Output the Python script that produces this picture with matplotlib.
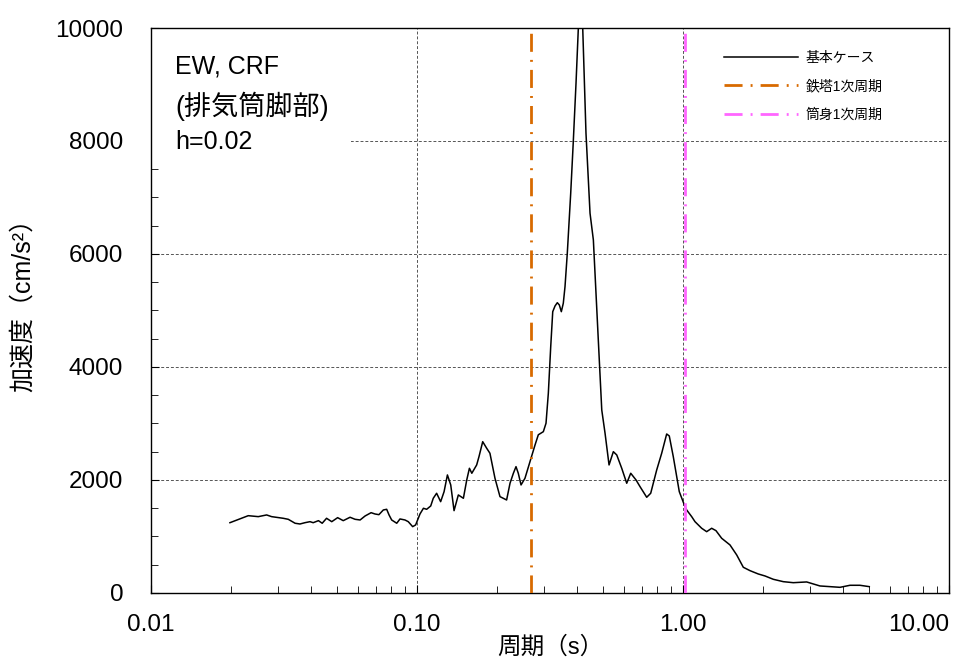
import numpy as np
import matplotlib.pyplot as plt
from matplotlib.patches import Rectangle
from matplotlib.ticker import FixedLocator, MultipleLocator, LogLocator, NullFormatter

plt.rcParams['font.family'] = ['Liberation Sans', 'Noto Sans CJK JP', 'DejaVu Sans']

# 周期 (s)
period = [0.0198, 0.0232, 0.0253, 0.0272, 0.0284, 0.0314, 0.0328, 0.0348, 0.0363, 0.0379,
          0.0396, 0.0407, 0.0426, 0.0440, 0.0457, 0.0478, 0.0503, 0.0528, 0.0560, 0.0585,
          0.0611, 0.0638, 0.0672, 0.0695, 0.0719, 0.0747, 0.0769, 0.0785, 0.0803, 0.0839,
          0.0863, 0.0901, 0.0927, 0.0963, 0.0988, 0.1026, 0.1057, 0.1087, 0.1126, 0.1151,
          0.1185, 0.1227, 0.1264, 0.1301, 0.1339, 0.1378, 0.1430, 0.1494, 0.1538, 0.1574,
          0.1607, 0.1676, 0.1710, 0.1766, 0.1828, 0.1880, 0.1964, 0.2051, 0.2110, 0.2172,
          0.2237, 0.2303, 0.2356, 0.2403, 0.2461, 0.2546, 0.2659, 0.2778, 0.2858, 0.2985,
          0.3055, 0.3117, 0.3182, 0.3238, 0.3303, 0.3369, 0.3428, 0.3488, 0.3548, 0.3601,
          0.3673, 0.3783, 0.3866, 0.3961, 0.4041, 0.4119, 0.4198, 0.4318, 0.4472, 0.4603,
          0.4806, 0.4950, 0.5093, 0.5272, 0.5472, 0.5636, 0.5884, 0.6144, 0.6361, 0.6660,
          0.6894, 0.7304, 0.7562, 0.7964, 0.8316, 0.8683, 0.8881, 0.9194, 0.9685, 1.0174,
          1.0325, 1.0782, 1.1096, 1.1757, 1.2275, 1.2818, 1.3305, 1.3978, 1.5022, 1.5920,
          1.6856, 1.7862, 1.9193, 2.0340, 2.1855, 2.3835, 2.5982, 2.9174, 3.0888, 3.2734,
          3.5703, 3.8932, 4.2451, 4.6280, 5.0165]
# 加速度 (cm/s2), 基本ケース
accel = [1244, 1368, 1351, 1381, 1351, 1322, 1304, 1234, 1221, 1244,
         1262, 1244, 1280, 1234, 1322, 1262, 1333, 1280, 1340, 1304,
         1292, 1363, 1421, 1398, 1386, 1469, 1481, 1381, 1292, 1234,
         1310, 1292, 1262, 1174, 1204, 1398, 1499, 1481, 1540, 1676,
         1765, 1616, 1793, 2089, 1912, 1457, 1735, 1676, 2000, 2207,
         2119, 2266, 2413, 2678, 2561, 2473, 2030, 1705, 1676, 1646,
         1942, 2119, 2236, 2119, 1912, 2030, 2324, 2620, 2800, 2855,
         3004, 3535, 4360, 4979, 5080, 5138, 5098, 4979, 5128, 5422,
         6013, 7075, 7960, 9022, 9995, 10600, 9995, 8137, 6721, 6248,
         4478, 3239, 2827, 2266, 2501, 2443, 2207, 1942, 2119, 2000,
         1882, 1694, 1765, 2177, 2473, 2814, 2779, 2413, 1793, 1528,
         1469, 1351, 1262, 1145, 1085, 1145, 1103, 968, 850, 673,
         455, 395, 336, 301, 242, 200, 182, 195, 159, 124,
         112, 100, 136, 136, 112]

tower_period = 0.268   # 鉄塔1次周期
stack_period = 1.015   # 筒身1次周期

fig = plt.figure(figsize=(9.77, 6.59), dpi=100)
ax = fig.add_axes([0.1546, 0.1002, 0.8167, 0.8573])

ax.plot(period, accel, color='black', lw=1.1, label='基本ケース', zorder=3)
ax.axvline(tower_period, color='#D86A00', lw=2.0, ls=(0, (6.5, 2.9, 0.7, 2.9)),
           label='鉄塔1次周期', zorder=4)
ax.axvline(stack_period, color='#FF66FF', lw=2.0, ls=(0, (6.5, 2.9, 0.7, 2.9)),
           label='筒身1次周期', zorder=4)

ax.set_xscale('log')
ax.set_xlim(0.01, 10)
ax.set_ylim(0, 10000)

ax.xaxis.set_major_locator(FixedLocator([0.01, 0.1, 1, 10]))
ax.set_xticklabels(['0.01', '0.10', '1.00', '10.00'])
ax.get_xticklabels()[-1].set_horizontalalignment('right')
ax.xaxis.set_minor_locator(LogLocator(base=10, subs=np.arange(2, 10)))
ax.xaxis.set_minor_formatter(NullFormatter())
ax.yaxis.set_major_locator(MultipleLocator(2000))
ax.yaxis.set_minor_locator(MultipleLocator(500))

ax.tick_params(which='both', direction='in', top=False, right=False, labelsize=17.5)
ax.tick_params(which='major', length=6, width=0.8)
ax.tick_params(which='minor', length=5, width=0.6)
ax.tick_params(axis='x', pad=15)
ax.tick_params(axis='y', pad=20)

ax.grid(True, which='major', color='#555555', ls=(0, (3, 2)), lw=0.7)
for s in ax.spines.values():
    s.set_linewidth(1.0)

ax.set_xlabel('周期（s）', fontsize=17, labelpad=0)
ax.set_ylabel('加速度（cm/s²）', fontsize=18)
ax.yaxis.set_label_coords(-0.145, 0.52)

# white box behind the case note
ax.add_patch(Rectangle((0, 0.78), 0.25, 0.22, transform=ax.transAxes,
                       facecolor='white', edgecolor='none', zorder=2.5))
ax.text(0.03, 0.931, 'EW, CRF', transform=ax.transAxes, fontsize=18,
        va='center', ha='left', zorder=5)
ax.text(0.03, 0.862, '(排気筒脚部)', transform=ax.transAxes, fontsize=19.5,
        va='center', ha='left', zorder=5)
ax.text(0.03, 0.798, 'h=0.02', transform=ax.transAxes, fontsize=18,
        va='center', ha='left', zorder=5)

leg = ax.legend(loc='upper left', bbox_to_anchor=(0.718, 0.96), frameon=False,
                borderaxespad=0, borderpad=0,
                fontsize=10, handlelength=5.3, labelspacing=1.05, handletextpad=0.6)

fig.savefig('out.png', dpi=100)
